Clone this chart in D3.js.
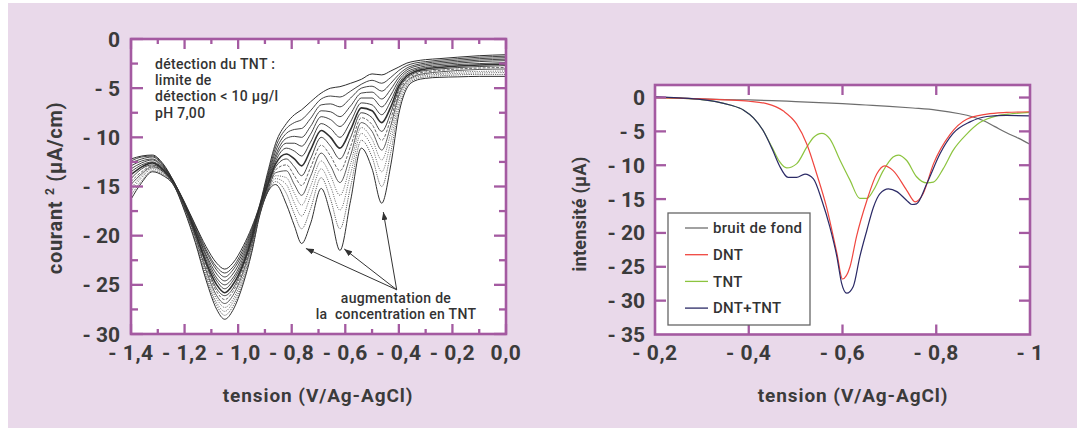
<!DOCTYPE html>
<html>
<head>
<meta charset="utf-8">
<script src="https://cdn.jsdelivr.net/npm/d3@7/dist/d3.min.js"></script>
<style>
    body { margin: 0; background: #fff; }
    svg text { font-family: Roboto, "DejaVu Sans", sans-serif; }
</style>
</head>
<body>
<div id="figure"></div>
<script>
/* ---- données ---- */

// graphe de gauche : tension (V) commune à toutes les courbes
var tensionG = [-1.40, -1.36, -1.32, -1.28, -1.24, -1.20, -1.16, -1.12, -1.08, -1.05,
    -1.02, -0.98, -0.95, -0.92, -0.89, -0.86, -0.82, -0.79, -0.763, -0.73,
    -0.69, -0.655, -0.62, -0.58, -0.54, -0.50, -0.464, -0.43, -0.40, -0.37,
    -0.34, -0.30, -0.25, -0.18, -0.10, 0.00];

// une ligne par tension, une colonne par concentration (faible -> forte)
var courantG = [
    [-12.2, -12.4, -12.6, -12.9, -13.2, -13.5, -13.8, -14.2, -14.5, -14.8, -15.2, -15.5, -15.9, -16.3],
    [-11.9, -12.0, -12.2, -12.4, -12.6, -12.8, -13.0, -13.2, -13.5, -13.7, -13.9, -14.1, -14.4, -14.6],
    [-11.8, -11.9, -12.0, -12.2, -12.3, -12.5, -12.6, -12.8, -12.9, -13.0, -13.1, -13.2, -13.4, -13.5],
    [-12.7, -12.8, -12.9, -13.0, -13.1, -13.2, -13.3, -13.4, -13.5, -13.5, -13.6, -13.7, -13.8, -13.9],
    [-14.5, -14.5, -14.6, -14.6, -14.6, -14.7, -14.7, -14.7, -14.8, -14.8, -14.8, -14.9, -14.9, -14.9],
    [-16.6, -16.7, -16.7, -16.8, -16.9, -16.9, -17.0, -17.1, -17.1, -17.2, -17.3, -17.3, -17.4, -17.5],
    [-18.9, -19.0, -19.2, -19.3, -19.4, -19.6, -19.7, -19.8, -20.0, -20.1, -20.2, -20.4, -20.5, -20.7],
    [-21.1, -21.4, -21.6, -21.9, -22.1, -22.4, -22.7, -22.9, -23.2, -23.5, -23.7, -24.0, -24.2, -24.5],
    [-22.8, -23.2, -23.5, -23.9, -24.3, -24.6, -25.0, -25.4, -25.7, -26.1, -26.4, -26.8, -27.1, -27.5],
    [-23.4, -23.8, -24.2, -24.6, -25.0, -25.4, -25.8, -26.1, -26.5, -26.9, -27.3, -27.7, -28.1, -28.5],
    [-22.8, -23.2, -23.5, -23.9, -24.3, -24.6, -25.0, -25.4, -25.7, -26.1, -26.5, -26.8, -27.2, -27.6],
    [-21.0, -21.3, -21.6, -21.9, -22.2, -22.5, -22.8, -23.0, -23.3, -23.6, -23.9, -24.2, -24.5, -24.8],
    [-19.2, -19.4, -19.6, -19.8, -20.0, -20.2, -20.4, -20.6, -20.8, -21.0, -21.2, -21.4, -21.6, -21.8],
    [-16.9, -17.0, -17.1, -17.2, -17.2, -17.3, -17.4, -17.5, -17.6, -17.6, -17.7, -17.8, -17.9, -18.0],
    [-13.6, -13.9, -14.1, -14.3, -14.5, -14.7, -14.9, -15.1, -15.3, -15.4, -15.5, -15.5, -15.6, -15.6],
    [-10.6, -11.0, -11.4, -11.8, -12.1, -12.4, -12.7, -13.0, -13.3, -13.6, -13.9, -14.2, -14.5, -14.8],
    [-8.6, -9.1, -9.6, -10.1, -10.6, -11.1, -11.7, -12.2, -12.8, -13.4, -14.1, -14.8, -15.7, -16.8],
    [-7.7, -8.5, -9.2, -9.9, -10.6, -11.4, -12.2, -13.0, -13.9, -14.8, -15.7, -16.7, -17.8, -19.0],
    [-7.2, -8.2, -9.1, -10.0, -10.9, -11.9, -12.9, -13.9, -14.9, -15.9, -16.9, -18.0, -19.3, -20.8],
    [-6.4, -7.3, -8.1, -8.9, -9.7, -10.5, -11.3, -12.2, -13.1, -14.0, -15.0, -16.0, -17.3, -18.8],
    [-5.5, -6.1, -6.7, -7.3, -7.9, -8.6, -9.3, -10.0, -10.8, -11.6, -12.4, -13.2, -14.1, -15.2],
    [-5.0, -5.8, -6.6, -7.4, -8.2, -9.1, -10.0, -10.9, -11.9, -12.9, -13.9, -15.0, -16.3, -17.8],
    [-4.85, -5.9, -6.9, -7.9, -8.9, -10.0, -11.1, -12.2, -13.4, -14.6, -15.9, -17.4, -19.3, -21.5],
    [-4.5, -5.3, -6.0, -6.8, -7.6, -8.4, -9.2, -10.0, -10.9, -11.8, -12.7, -13.7, -15.0, -16.4],
    [-4.1, -4.6, -5.0, -5.5, -6.0, -6.5, -7.0, -7.5, -8.0, -8.5, -9.0, -9.6, -10.3, -11.1],
    [-3.55, -4.2, -4.8, -5.4, -6.0, -6.7, -7.3, -8.0, -8.7, -9.4, -10.2, -11.0, -12.0, -13.2],
    [-3.65, -4.5, -5.3, -6.1, -6.9, -7.7, -8.5, -9.4, -10.3, -11.3, -12.3, -13.5, -15.0, -16.7],
    [-3.25, -3.9, -4.5, -5.1, -5.7, -6.3, -6.9, -7.5, -8.1, -8.8, -9.5, -10.4, -11.5, -12.8],
    [-2.85, -3.2, -3.6, -3.9, -4.2, -4.5, -4.8, -5.1, -5.4, -5.7, -6.0, -6.4, -7.0, -7.6],
    [-2.45, -2.7, -2.95, -3.15, -3.35, -3.55, -3.75, -3.95, -4.1, -4.3, -4.45, -4.6, -4.8, -5.0],
    [-2.25, -2.45, -2.65, -2.8, -3.0, -3.15, -3.3, -3.45, -3.6, -3.75, -3.85, -3.95, -4.1, -4.25],
    [-2.1, -2.3, -2.45, -2.6, -2.75, -2.9, -3.05, -3.2, -3.35, -3.5, -3.6, -3.7, -3.85, -4.0],
    [-2.0, -2.15, -2.3, -2.45, -2.6, -2.75, -2.9, -3.05, -3.2, -3.35, -3.5, -3.6, -3.75, -3.9],
    [-1.85, -2.0, -2.15, -2.3, -2.45, -2.6, -2.75, -2.9, -3.05, -3.2, -3.35, -3.5, -3.65, -3.85],
    [-1.7, -1.85, -2.0, -2.15, -2.3, -2.5, -2.65, -2.8, -2.95, -3.1, -3.3, -3.45, -3.6, -3.8],
    [-1.6, -1.75, -1.9, -2.05, -2.2, -2.4, -2.55, -2.7, -2.9, -3.05, -3.25, -3.4, -3.6, -3.8]
];

var ticksXG = [-1.4, -1.2, -1.0, -0.8, -0.6, -0.4, -0.2, 0.0];
var ticksYG = [0, -5, -10, -15, -20, -25, -30];
var notesG = ["détection du TNT :", "limite de", "détection < 10 µg/l", "pH 7,00"];
var flecheG = ["augmentation de", "la  concentration en TNT"];

// graphe de droite
var tensionBruit = [-0.20, -0.25, -0.30, -0.35, -0.40, -0.45, -0.50, -0.55, -0.60, -0.65,
    -0.70, -0.75, -0.80, -0.85, -0.875, -0.90, -0.925, -0.95, -0.975, -1.00];
var bruitDeFond = [0.1, -0.1, -0.2, -0.3, -0.35, -0.45, -0.6, -0.75, -0.9, -1.1,
    -1.3, -1.55, -1.85, -2.4, -2.8, -3.4, -4.3, -5.2, -6.0, -6.9];

var tensionDNT = [-0.20, -0.25, -0.30, -0.35, -0.40, -0.438, -0.474, -0.502, -0.524, -0.545,
    -0.566, -0.588, -0.600, -0.616, -0.63, -0.652, -0.673, -0.69, -0.708, -0.737,
    -0.755, -0.772, -0.794, -0.83, -0.865, -0.908, -0.95, -1.0];
var courantDNT = [0, -0.1, -0.2, -0.35, -0.55, -0.9, -2.0, -3.9, -6.9, -11.3,
    -16.2, -23.0, -26.8, -25.0, -20.5, -15.2, -11.3, -10.1, -10.8, -13.7,
    -15.4, -14.2, -9.8, -5.4, -3.2, -2.45, -2.2, -2.1];

var tensionTNT = [-0.20, -0.25, -0.30, -0.33, -0.36, -0.39, -0.41, -0.43, -0.45, -0.465,
    -0.481, -0.502, -0.524, -0.538, -0.556, -0.573, -0.595, -0.616, -0.637, -0.652,
    -0.666, -0.687, -0.708, -0.719, -0.737, -0.758, -0.78, -0.794, -0.815, -0.836,
    -0.865, -0.893, -0.929, -0.96, -1.0];
var courantTNT = [0, -0.1, -0.3, -0.6, -1.1, -1.9, -3.0, -4.8, -7.4, -9.4,
    -10.4, -9.8, -7.3, -5.9, -5.3, -6.1, -9.3, -12.2, -14.9, -14.9,
    -13.7, -10.8, -8.8, -8.5, -9.3, -11.7, -12.6, -12.5, -10.5, -7.8,
    -5.4, -3.7, -2.7, -2.4, -2.2];

var tensionMix = [-0.20, -0.25, -0.30, -0.33, -0.36, -0.39, -0.41, -0.43, -0.45, -0.465,
    -0.484, -0.502, -0.52, -0.538, -0.556, -0.573, -0.588, -0.598, -0.609, -0.623,
    -0.637, -0.652, -0.666, -0.68, -0.698, -0.716, -0.737, -0.748, -0.758, -0.78,
    -0.808, -0.836, -0.872, -0.908, -0.95, -1.0];
var courantMix = [0.1, -0.05, -0.3, -0.6, -1.1, -1.9, -3.0, -4.8, -7.6, -10.0,
    -11.8, -11.8, -11.3, -12.0, -15.2, -19.1, -23.5, -27.4, -28.9, -27.9,
    -23.5, -19.6, -16.2, -14.2, -13.5, -13.9, -15.2, -15.8, -15.7, -12.7,
    -8.3, -5.3, -3.6, -2.8, -2.65, -2.7];

var legendeD = ["bruit de fond", "DNT", "TNT", "DNT+TNT"];
var ticksXD = [-0.2, -0.4, -0.6, -0.8, -1.0];
var ticksYD = [0, -5, -10, -15, -20, -25, -30, -35];

(function drawFigure (window, d3, undefined) {
    "use strict";
    var width = 1077,
        height = 430,
        violet = "#a45aa1",
        encre = "#3b3b3b",
        svg;

    /**
     * Formats a value the french way: "- 0,4", "0,0"
     */
    function frLabel (v, digits) {
        var s = d3.format("." + digits + "f")(Math.abs(v)).replace(".", ",");
        return v < 0 ? "- " + s : s;
    }

    /**
     * Frame plus inward ticks on the four sides
     */
    function drawFrame (g, x, y, xt, yt) {
        var x0 = x.range()[0], x1 = x.range()[1],
            y0 = y.range()[1], y1 = y.range()[0];
        g.selectAll("line.tx").data(xt).enter().append("line")
            .attr("x1", function (d) { return x(d.v); })
            .attr("x2", function (d) { return x(d.v); })
            .attr("y1", y1).attr("y2", function (d) { return y1 - d.len; });
        g.selectAll("line.txt").data(xt).enter().append("line")
            .attr("x1", function (d) { return x(d.v); })
            .attr("x2", function (d) { return x(d.v); })
            .attr("y1", y0).attr("y2", function (d) { return y0 + d.len; });
        g.selectAll("line.ty").data(yt).enter().append("line")
            .attr("y1", function (d) { return y(d.v); })
            .attr("y2", function (d) { return y(d.v); })
            .attr("x1", x0).attr("x2", function (d) { return x0 + d.len; });
        g.selectAll("line.tyr").data(yt).enter().append("line")
            .attr("y1", function (d) { return y(d.v); })
            .attr("y2", function (d) { return y(d.v); })
            .attr("x1", x1).attr("x2", function (d) { return x1 - d.len; });
        g.selectAll("line").attr("stroke", violet).attr("stroke-width", 2.3);
        g.append("rect")
            .attr("x", x0).attr("y", y0)
            .attr("width", x1 - x0).attr("height", y1 - y0)
            .attr("fill", "none").attr("stroke", violet).attr("stroke-width", 2.6);
    }

    svg = d3.select("#figure").append("svg")
        .attr("width", width).attr("height", height);

    svg.append("rect")
        .attr("x", 8).attr("y", 3).attr("width", width - 8).attr("height", height - 5)
        .attr("fill", "#e9d9ea");

    svg.append("defs").append("marker")
        .attr("id", "pointe")
        .attr("viewBox", "0 0 8 6")
        .attr("refX", 8).attr("refY", 3)
        .attr("markerWidth", 8).attr("markerHeight", 6)
        .attr("markerUnits", "userSpaceOnUse")
        .attr("orient", "auto")
        .append("path").attr("d", "M0,0L8,3L0,6Z").attr("fill", "#333");

    /* ---------- graphe de gauche ---------- */
    var xG = d3.scaleLinear().domain([-1.4, 0]).range([131, 506]),
        yG = d3.scaleLinear().domain([-30, 0]).range([334, 39]),
        gauche = svg.append("g");

    gauche.append("rect")
        .attr("x", 131).attr("y", 39).attr("width", 375).attr("height", 295)
        .attr("fill", "#fff");

    // styles of the 14 traces, top to bottom
    var traits = [
        {w: 1.0, dash: null}, {w: 0.9, dash: null}, {w: 0.9, dash: null}, {w: 0.9, dash: null},
        {w: 0.9, dash: null}, {w: 0.9, dash: null}, {w: 1.6, dash: null}, {w: 0.9, dash: null},
        {w: 0.9, dash: "3,1.5"}, {w: 0.8, dash: null}, {w: 0.9, dash: "1,1.3"}, {w: 0.9, dash: "1,1.3"},
        {w: 0.9, dash: "1.2,1"}, {w: 1.0, dash: null}
    ];

    var series = d3.range(courantG[0].length).map(function (k) {
        return tensionG.map(function (v, i) { return [v, courantG[i][k]]; });
    });

    var ligneG = d3.line()
        .x(function (d) { return xG(d[0]); })
        .y(function (d) { return yG(d[1]); })
        .curve(d3.curveMonotoneX);

    gauche.append("g").selectAll("path").data(series).enter().append("path")
        .attr("d", ligneG)
        .attr("fill", "none")
        .attr("stroke", function (d, i) { return traits[i].dash ? "#555" : "#2f2f2f"; })
        .attr("stroke-width", function (d, i) { return traits[i].w; })
        .attr("stroke-dasharray", function (d, i) { return traits[i].dash; });

    var txG = d3.range(15).map(function (i) { return {v: -1.4 + i * 0.1, len: i % 2 ? 5 : 10}; }),
        tyG = d3.range(13).map(function (i) { return {v: -i * 2.5, len: i % 2 ? 7 : 12}; });
    drawFrame(gauche.append("g"), xG, yG, txG, tyG);

    gauche.append("g").selectAll("text").data(ticksXG).enter().append("text")
        .attr("x", function (d) { return xG(d); })
        .attr("y", 360)
        .attr("text-anchor", "middle")
        .style("white-space", "pre")
        .attr("font-size", 21).attr("font-weight", 700).attr("fill", encre)
        .attr("letter-spacing", 0.5)
        .text(function (d) { return frLabel(d, 1); });

    gauche.append("g").selectAll("text").data(ticksYG).enter().append("text")
        .attr("x", 120)
        .attr("y", function (d) { return yG(d); })
        .attr("dy", "0.36em")
        .attr("text-anchor", "end")
        .attr("font-size", 21).attr("font-weight", 700).attr("fill", encre)
        .text(function (d) { return frLabel(d, 0); });

    gauche.append("text")
        .attr("x", 318).attr("y", 402)
        .attr("text-anchor", "middle")
        .attr("font-size", 19).attr("font-weight", 700).attr("fill", encre)
        .attr("letter-spacing", 0.9)
        .text("tension (V/Ag-AgCl)");

    var titreYG = gauche.append("text")
        .attr("transform", "translate(62,188)rotate(-90)")
        .attr("text-anchor", "middle")
        .attr("font-size", 20).attr("font-weight", 700).attr("fill", encre)
        .attr("letter-spacing", 0.7);
    titreYG.append("tspan").text("courant ");
    titreYG.append("tspan").attr("dy", -8).attr("font-size", 12).text("2");
    titreYG.append("tspan").attr("dy", 8).text(" (µA/cm)");

    gauche.append("g").selectAll("text").data(notesG).enter().append("text")
        .attr("x", 155)
        .attr("y", function (d, i) { return 69 + i * 16.2; })
        .attr("font-size", 14).attr("font-weight", 500).attr("fill", "#333")
        .attr("letter-spacing", 0.3)
        .text(function (d) { return d; });

    // arrows pointing at the three TNT peaks
    var sommet = [-0.408, -25.5],
        cibles = [[-0.747, -21.3], [-0.604, -21.35], [-0.458, -17.6]];
    gauche.append("g").selectAll("line").data(cibles).enter().append("line")
        .attr("x1", xG(sommet[0])).attr("y1", yG(sommet[1]))
        .attr("x2", function (d) { return xG(d[0]); })
        .attr("y2", function (d) { return yG(d[1]); })
        .attr("stroke", "#333").attr("stroke-width", 1)
        .attr("marker-end", "url(#pointe)");

    gauche.append("g").selectAll("text").data(flecheG).enter().append("text")
        .attr("x", 396)
        .attr("y", function (d, i) { return 303 + i * 16.2; })
        .attr("text-anchor", "middle")
        .style("white-space", "pre")
        .attr("font-size", 14).attr("font-weight", 500).attr("fill", "#333")
        .attr("letter-spacing", 0.3)
        .text(function (d) { return d; });

    /* ---------- graphe de droite ---------- */
    var xD = d3.scaleLinear().domain([-0.2, -1]).range([655, 1030]),
        yD = d3.scaleLinear().domain([-35, 1.85]).range([334.5, 85]),
        droite = svg.append("g");

    droite.append("rect")
        .attr("x", 655).attr("y", 85).attr("width", 375).attr("height", 249.5)
        .attr("fill", "#fff");

    var ligneD = d3.line()
        .x(function (d) { return xD(d[0]); })
        .y(function (d) { return yD(d[1]); })
        .curve(d3.curveMonotoneX);

    var courbes = [
        {nom: legendeD[0], t: tensionBruit, c: bruitDeFond, col: "#6e6e6e"},
        {nom: legendeD[2], t: tensionTNT, c: courantTNT, col: "#8cc43f"},
        {nom: legendeD[1], t: tensionDNT, c: courantDNT, col: "#f0463f"},
        {nom: legendeD[3], t: tensionMix, c: courantMix, col: "#2b2a66"}
    ];

    droite.append("g").selectAll("path").data(courbes).enter().append("path")
        .attr("d", function (d) { return ligneD(d3.zip(d.t, d.c)); })
        .attr("fill", "none")
        .attr("stroke", function (d) { return d.col; })
        .attr("stroke-width", 1.2);

    var txD = [-0.4, -0.6, -0.8].map(function (v) { return {v: v, len: 10}; }),
        tyD = [0, -5, -10, -15, -20, -25, -30].map(function (v) { return {v: v, len: 11}; });
    drawFrame(droite.append("g"), xD, yD, txD, tyD);

    droite.append("g").selectAll("text").data(ticksXD).enter().append("text")
        .attr("x", function (d) { return xD(d); })
        .attr("y", 360)
        .attr("text-anchor", "middle")
        .style("white-space", "pre")
        .attr("font-size", 21).attr("font-weight", 700).attr("fill", encre)
        .attr("letter-spacing", 0.5)
        .text(function (d) { return d === -1 ? "- 1" : frLabel(d, 1); });

    droite.append("g").selectAll("text").data(ticksYD).enter().append("text")
        .attr("x", 645)
        .attr("y", function (d) { return yD(d); })
        .attr("dy", "0.36em")
        .attr("text-anchor", "end")
        .attr("font-size", 21).attr("font-weight", 700).attr("fill", encre)
        .text(function (d) { return frLabel(d, 0); });

    droite.append("text")
        .attr("x", 853).attr("y", 402)
        .attr("text-anchor", "middle")
        .attr("font-size", 19).attr("font-weight", 700).attr("fill", encre)
        .attr("letter-spacing", 0.9)
        .text("tension (V/Ag-AgCl)");

    droite.append("text")
        .attr("transform", "translate(586,214)rotate(-90)")
        .attr("text-anchor", "middle")
        .attr("font-size", 18).attr("font-weight", 700).attr("fill", encre)
        .attr("letter-spacing", 0.3)
        .text("intensité (µA)");

    // legend box
    var leg = droite.append("g").attr("transform", "translate(668,213)"),
        ordre = [courbes[0], courbes[2], courbes[1], courbes[3]];
    leg.append("rect")
        .attr("width", 142).attr("height", 112)
        .attr("fill", "#fff").attr("stroke", "#666").attr("stroke-width", 1.3);
    var item = leg.selectAll("g").data(ordre).enter().append("g")
        .attr("transform", function (d, i) { return "translate(0," + (15 + i * 26.7) + ")"; });
    item.append("line")
        .attr("x1", 17).attr("x2", 40)
        .attr("stroke", function (d) { return d.col; })
        .attr("stroke-width", 1.3);
    item.append("text")
        .attr("x", 45).attr("dy", "0.35em")
        .attr("font-size", 15).attr("font-weight", 500).attr("fill", "#333")
        .attr("letter-spacing", 0.3)
        .text(function (d) { return d.nom; });
})(window, window.d3);
</script>
</body>
</html>
